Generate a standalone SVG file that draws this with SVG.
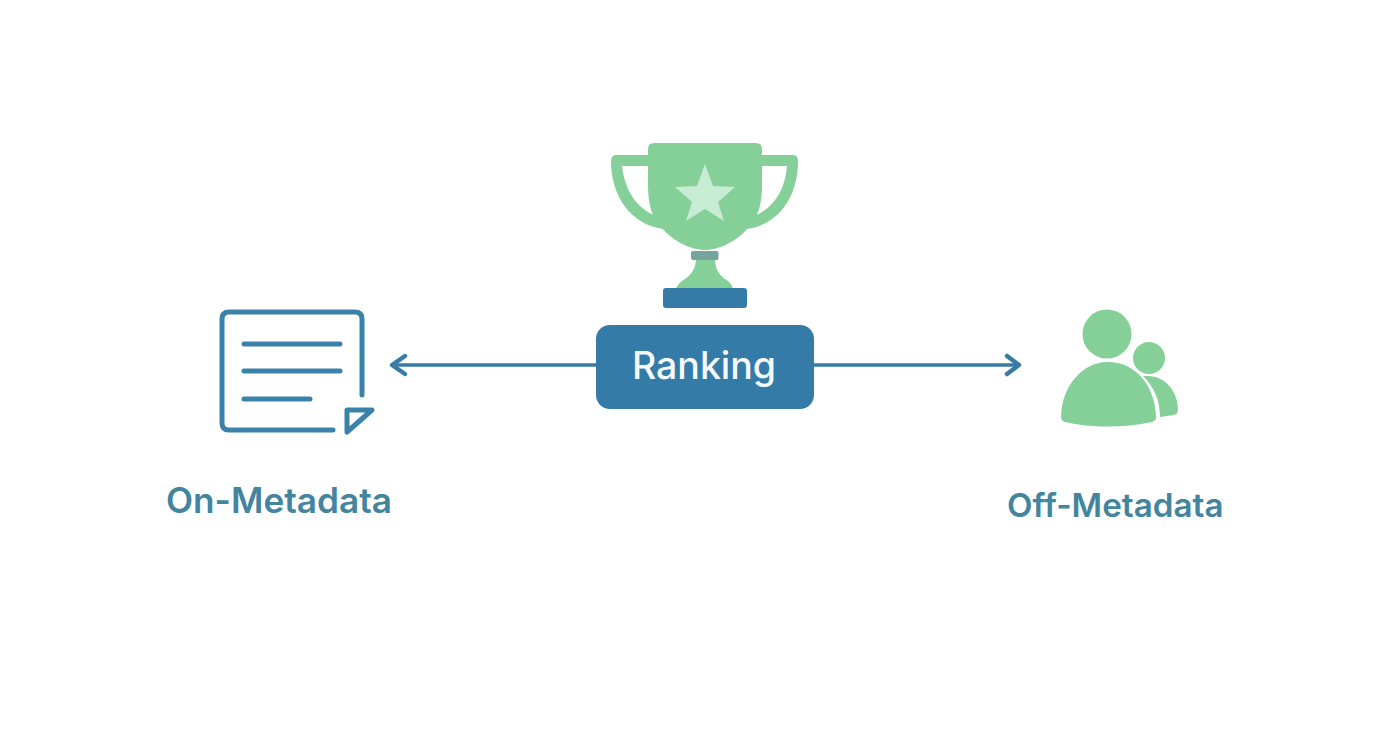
<svg xmlns="http://www.w3.org/2000/svg" width="1392" height="752" viewBox="0 0 1392 752">
<style>
.g{fill:#84d098}
.b{fill:none;stroke:#3b82aa;stroke-width:5;stroke-linecap:round;stroke-linejoin:round}
.lab{font-family:Inter,"Liberation Sans",sans-serif;font-weight:600;fill:#43859f}
.con{fill:none;stroke:#397ba5;stroke-width:3.500;stroke-linecap:round;stroke-linejoin:round}
.head{fill:none;stroke:#397ba5;stroke-width:4.500;stroke-linecap:round;stroke-linejoin:round}
</style>
<rect width="1392" height="752" fill="#ffffff"/>
<g id="connectors">
<path class="con" d="M596 365H393"/>
<path class="head" d="M405 356L392 365L405 374"/>
<path class="con" d="M814 365H1018"/>
<path class="head" d="M1007 356L1019 365L1007 374"/>
</g>
<g id="trophy">
<path class="g" fill-rule="evenodd" d="M652 155H616Q611 155 611 161C611 195 630 225 664 229L746 229C780 225 798 195 798 161Q798 155 793 155H758V166H787C785 192 772 209 754 216L656 216C638 209 625 192 622 166H652Z"/>
<path class="g" d="M654 143H756Q762 143 762 149V185C762 205 758 218 748 228C738 240 720 250 705 250C690 250 672 240 662 228C652 218 648 205 648 185V149Q648 143 654 143Z"/>
<path class="g" d="M696 258H715C715 268 718 274 725 279C730 282 732 285 733 289H676C677 285 680 282 685 279C692 274 696 268 696 258Z"/>
<rect x="691" y="251" width="27.500" height="9" rx="2" fill="#76a39c"/>
<rect x="663" y="288" width="84" height="20" rx="3" fill="#347ba8"/>
<path fill="#c8ecd3" d="M705 164L713 186L735 187L718 202L724 221L705 209L686 221L692 202L675 187L697 186Z"/>
</g>
<g id="ranking">
<rect x="596" y="325" width="218" height="84" rx="14" fill="#347ba8"/>
<text x="704" y="379" text-anchor="middle" font-family="Inter,'Liberation Sans',sans-serif" font-size="37.500" font-weight="500" fill="#f4f9fb">Ranking</text>
</g>
<g id="on-metadata">
<path class="b" d="M362 395V319Q362 312 355 312H229Q222 312 222 319V423Q222 430 229 430H333"/>
<path class="b" d="M244 344H340M244 371H340M244 399H310"/>
<path class="b" d="M347 410H372L347 432Z"/>
<text class="lab" x="166" y="513" font-size="35.200">On-Metadata</text>
</g>
<g id="off-metadata">
<circle class="g" cx="1107" cy="334" r="24.500"/>
<circle class="g" cx="1149" cy="358" r="16"/>
<path class="g" d="M1061 416C1062 385 1083 362 1108 362C1135 362 1155 385 1156 417Q1156 421 1152 422C1125 428 1090 428 1065 422Q1061 421 1061 416Z"/>
<path class="g" d="M1143 376H1148C1165 376 1178 391 1178 410Q1178 414 1174 415L1160 417C1160 400 1154 387 1143 376Z"/>
<text class="lab" x="1007" y="517" font-size="33.200">Off-Metadata</text>
</g>
</svg>
